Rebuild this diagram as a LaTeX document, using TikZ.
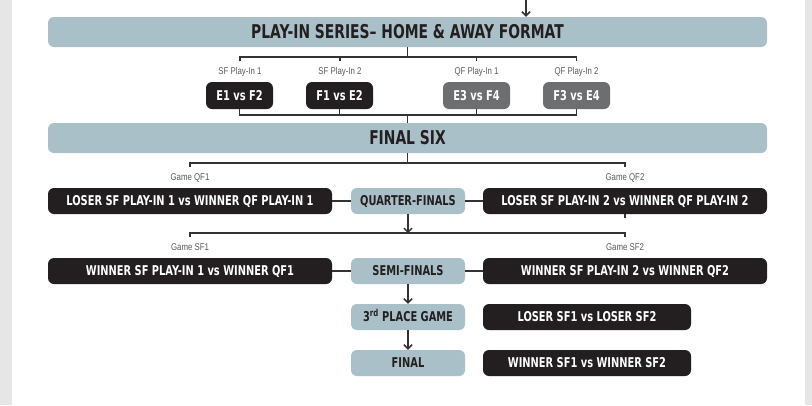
\documentclass[tikz,border=0pt]{standalone}
\usepackage{fontspec}
\setmainfont{DejaVu Sans}
\newfontfamily\boxfont{DejaVu Sans}[FakeStretch=0.73]
\newfontfamily\tagfont{Liberation Sans}[FakeStretch=0.8]
\usetikzlibrary{arrows.meta}
\definecolor{stageblue}{HTML}{A9C0C8}
\definecolor{matchdark}{HTML}{231F20}
\definecolor{matchgray}{HTML}{6D6E70}
\definecolor{tagcolor}{HTML}{58595B}
\definecolor{linecolor}{HTML}{333333}
\definecolor{margingray}{HTML}{E6E6E6}
\tikzset{
  stage/.style={fill=stageblue, rounded corners=6pt, text=matchdark, inner sep=0pt,
    minimum width=114pt, minimum height=26pt, text height=9.8pt, text depth=0pt,
    font=\boxfont\bfseries\fontsize{13.5}{14}\selectfont},
  banner/.style={stage, minimum width=719pt, minimum height=30pt, text height=13.9pt,
    font=\boxfont\bfseries\fontsize{19}{20}\selectfont},
  match/.style={stage, fill=matchdark, text=white, minimum width=284pt},
  pair/.style={match, minimum width=67pt, minimum height=27pt},
  tag/.style={text=tagcolor, inner sep=1pt, text height=7pt, text depth=2pt,
    font=\tagfont\fontsize{9.8}{10}\selectfont},
  link/.style={draw=linecolor, line width=1.5pt},
  flow/.style={link, -{Straight Barb[length=4pt,width=8pt]}}
}

\begin{document}
\begin{tikzpicture}[x=1pt,y=-1pt]%[show background grid]
\useasboundingbox (0,0) rectangle (812,405);
\fill[margingray] (0,0) rectangle (812,405);
\fill[white] (12,0) rectangle (805,405);

\node[banner] (PlayInSeries) at (407.5,32) {PLAY-IN SERIES– HOME \& AWAY FORMAT};

\node[tag] (SFPlayIn1Tag) at (240,72) {SF Play-In 1};
\node[tag] (SFPlayIn2Tag) at (340,72) {SF Play-In 2};
\node[tag] (QFPlayIn1Tag) at (476.5,72) {QF Play-In 1};
\node[tag] (QFPlayIn2Tag) at (576.5,72) {QF Play-In 2};

\node[pair] (SFPlayIn1) at (239.5,95.5) {E1 vs F2};
\node[pair] (SFPlayIn2) at (339.5,95.5) {F1 vs E2};
\node[pair, fill=matchgray] (QFPlayIn1) at (476.5,95.5) {E3 vs F4};
\node[pair, fill=matchgray] (QFPlayIn2) at (576.5,95.5) {F3 vs E4};

\node[banner] (FinalSix) at (407.5,138) {FINAL SIX};

\node[tag] (GameQF1) at (190,178) {Game QF1};
\node[tag] (GameQF2) at (625,178) {Game QF2};
\node[match] (QF1) at (190,201) {LOSER SF PLAY-IN 1 vs WINNER QF PLAY-IN 1};
\node[stage] (QuarterFinals) at (408,201) {QUARTER-FINALS};
\node[match] (QF2) at (625,201) {LOSER SF PLAY-IN 2 vs WINNER QF PLAY-IN 2};

\node[tag] (GameSF1) at (190,248) {Game SF1};
\node[tag] (GameSF2) at (625,248) {Game SF2};
\node[match] (SF1) at (190,271) {WINNER SF PLAY-IN 1 vs WINNER QF1};
\node[stage] (SemiFinals) at (408,271) {SEMI-FINALS};
\node[match] (SF2) at (625,271) {WINNER SF PLAY-IN 2 vs WINNER QF2};

\node[stage] (ThirdPlace) at (408,317) {3\textsuperscript{rd} PLACE GAME};
\node[match, minimum width=208pt] (ThirdPlaceGame) at (587,317) {LOSER SF1 vs LOSER SF2};
\node[stage] (Final) at (408,363) {FINAL};
\node[match, minimum width=208pt] (FinalGame) at (587,363) {WINNER SF1 vs WINNER SF2};

\coordinate (Entry) at (526,0);
\draw[flow] (Entry) -- (Entry |- PlayInSeries.north);

\draw[link] (PlayInSeries.south) -- ++(0,10) coordinate (PlayInSplit);
\draw[link, shorten <=5pt, shorten >=5pt] (SFPlayIn1Tag.north) |- (PlayInSplit) -| (QFPlayIn2Tag.north);
\draw[link, shorten <=5pt] (SFPlayIn2Tag.north) -- (SFPlayIn2Tag.north |- PlayInSplit);
\draw[link, shorten <=5pt] (QFPlayIn1Tag.north) -- (QFPlayIn1Tag.north |- PlayInSplit);

\draw[link] (FinalSix.north) -- ++(0,-8) coordinate (FinalSixMerge);
\draw[link] (SFPlayIn1.south) |- (FinalSixMerge) -| (QFPlayIn2.south);
\draw[link] (SFPlayIn2.south) -- (SFPlayIn2.south |- FinalSixMerge);
\draw[link] (QFPlayIn1.south) -- (QFPlayIn1.south |- FinalSixMerge);

\draw[link] (FinalSix.south) -- ++(0,10) coordinate (FinalSixSplit);
\draw[link, shorten <=5pt, shorten >=5pt] (GameQF1.north) |- (FinalSixSplit) -| (GameQF2.north);

\draw[link] (QF1.east) -- (QuarterFinals.west);
\draw[link] (QuarterFinals.east) -- (QF2.west);
\draw[link] (QF2.south) -- ++(0,4);

\draw[flow] (QuarterFinals.south) -- ++(0,19) coordinate (QuarterSplit);
\draw[link, shorten <=5pt, shorten >=5pt] (GameSF1.north) |- (QuarterSplit) -| (GameSF2.north);

\draw[link] (SF1.east) -- (SemiFinals.west);
\draw[link] (SemiFinals.east) -- (SF2.west);

\draw[flow] (SemiFinals) -- (ThirdPlace);
\draw[flow] (ThirdPlace) -- (Final);

\end{tikzpicture}
\end{document}
